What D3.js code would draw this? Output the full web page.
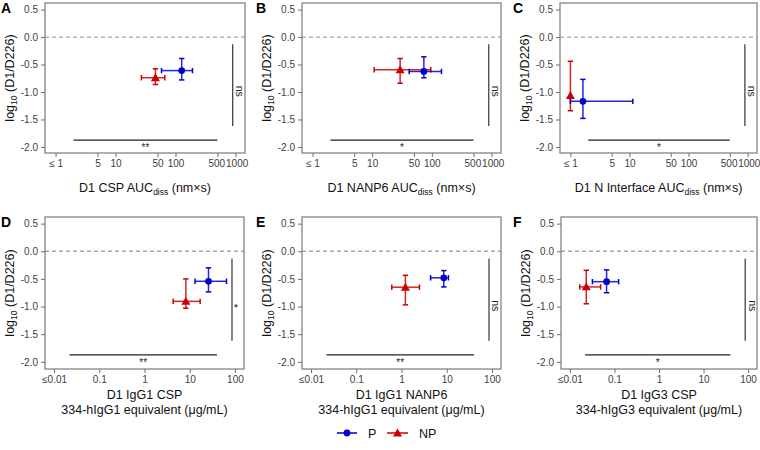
<!DOCTYPE html>
<html><head><meta charset="utf-8">
<script src="https://cdn.jsdelivr.net/npm/d3@7"></script>
<style>body{margin:0;background:#fff;} svg{display:block;font-family:"Liberation Sans",Arial,sans-serif;}</style>
</head><body><svg id="c" width="760" height="450"></svg>
<script>
// ---------- data ----------
const panelIds = ["A","B","C","D","E","F"];
const xTitleMain = ["D1 CSP AUC","D1 NANP6 AUC","D1 N Interface AUC","D1 IgG1 CSP","D1 IgG1 NANP6","D1 IgG3 CSP"];
const xTitleSecond = [null,null,null,"334-hIgG1 equivalent (μg/mL)","334-hIgG1 equivalent (μg/mL)","334-hIgG3 equivalent (μg/mL)"];
const yTickValues = [0.5,0,-0.5,-1,-1.5,-2];
const yTickLabels = ["0.5","0.0","-0.5","-1.0","-1.5","-2.0"];
const aucTickValues = [1,5,10,50,100,500,1000];
const aucTickLabels = ["≤ 1","5","10","50","100","500","1000"];
const igTickValues = [0.01,0.1,1,10,100];
const igTickLabels = ["≤0.01","0.1","1","10","100"];
const seriesNames = ["P","NP"];

// P (protected) means with error ranges, per panel A..F
const pX   = [127, 73.5, 1.63, 26, 8.6, 0.0666];
const pXlo = [58.5, 41.7, 1, 13.1, 4.4, 0.032];
const pXhi = [192, 145, 11.4, 65, 10.9, 0.124];
const pY   = [-0.61, -0.626, -1.17, -0.543, -0.48, -0.55];
const pYlo = [-0.78, -0.74, -1.48, -0.735, -0.645, -0.75];
const pYhi = [-0.39, -0.36, -0.77, -0.30, -0.35, -0.337];
// NP (not protected)
const npX   = [46.3, 29.4, 1, 8.2, 1.22, 0.0233];
const npXlo = [27, 10.8, 1, 4.3, 0.61, 0.0166];
const npXhi = [66.4, 96, 1, 17, 2.5, 0.049];
const npY   = [-0.74, -0.595, -1.064, -0.906, -0.65, -0.645];
const npYlo = [-0.863, -0.84, -1.34, -1.03, -0.97, -0.95];
const npYhi = [-0.577, -0.39, -0.44, -0.50, -0.435, -0.345];

// significance annotations
const hSigLabels = ["**","*","*","**","**","*"];
const vSigLabels = ["ns","ns","ns","*","ns","ns"];
const hSigFrom = [2, 2, 2, 0.022, 0.022, 0.022];
const hSigTo   = [500, 500, 500, 40, 40, 40];
const vSigAt   = [900, 900, 900, 86, 86, 86];

// ---------- layout ----------
const boxes = [
  {l:45, r:245, t:3, b:153}, {l:302, r:501, t:3, b:153}, {l:560, r:757, t:3, b:153},
  {l:45, r:244, t:217, b:369}, {l:302, r:501, t:217, b:369}, {l:561, r:757, t:217, b:369}
];
const letterX = [1, 256, 513, 1, 256, 513];
const blue = "#0000cd", red = "#cd0000";
const svg = d3.select("#c");

panelIds.forEach((id, i) => {
  const bx = boxes[i];
  const row1 = i < 3;
  const x = d3.scaleLog()
    .domain(row1 ? [Math.pow(10,-0.176), Math.pow(10,3.159)] : [Math.pow(10,-2.2), Math.pow(10,2.2)])
    .range([bx.l, bx.r]);
  const y = d3.scaleLinear().domain(row1 ? [-2.11, 0.62] : [-2.13, 0.62]).range([bx.b, bx.t]);
  const g = svg.append("g");

  // axes
  const tv = row1 ? aucTickValues : igTickValues;
  const tl = row1 ? aucTickLabels : igTickLabels;
  const xa = g.append("g").attr("transform", `translate(0,${bx.b})`)
    .call(d3.axisBottom(x).tickValues(tv).tickFormat((d,k) => tl[k]).tickSize(4).tickPadding(3).tickSizeOuter(0));
  const ya = g.append("g").attr("transform", `translate(${bx.l},0)`)
    .call(d3.axisLeft(y).tickValues(yTickValues).tickFormat((d,k) => yTickLabels[k]).tickSize(4).tickPadding(3).tickSizeOuter(0));
  [xa, ya].forEach(a => {
    a.select(".domain").remove();
    a.selectAll("line").attr("stroke", "#6e6e6e").attr("stroke-width", 1);
    a.selectAll("text").attr("fill", "#404040").attr("font-size", 10).attr("font-family", "Liberation Sans, Arial, sans-serif");
  });
  // the crowded 500 / 1000 labels sit edge to edge, as in the reference
  xa.selectAll(".tick text").attr("dx", d => d === 500 ? -1.2 : d === 1000 ? 1.2 : 0);

  // zero dashed line
  g.append("line").attr("x1", bx.l).attr("x2", bx.r).attr("y1", y(0)).attr("y2", y(0))
    .attr("stroke", "#a6a6a6").attr("stroke-width", 1.3).attr("stroke-dasharray", "4,3");

  // significance bars
  g.append("line").attr("x1", x(hSigFrom[i])).attr("x2", x(hSigTo[i]))
    .attr("y1", y(-1.875)).attr("y2", y(-1.875)).attr("stroke", "#222").attr("stroke-width", 1.1);
  g.append("text").attr("x", x(Math.sqrt(hSigFrom[i]*hSigTo[i]))).attr("y", y(-1.875) + 11)
    .attr("text-anchor", "middle").attr("font-size", 10).attr("fill", "#222").text(hSigLabels[i]);
  g.append("line").attr("x1", x(vSigAt[i])).attr("x2", x(vSigAt[i]))
    .attr("y1", y(-0.13)).attr("y2", y(-1.62)).attr("stroke", "#222").attr("stroke-width", 1.1);
  const vOff = vSigLabels[i] === "ns" ? 3.5 : -1.5;
  g.append("text").attr("transform", `translate(${x(vSigAt[i]) + vOff},${y(-0.985)}) rotate(90)`)
    .attr("text-anchor", "middle").attr("font-size", 10.5).attr("fill", "#222").text(vSigLabels[i]);

  // series
  const series = [
    {name: seriesNames[1], col: red, cx: npX[i], xl: npXlo[i], xh: npXhi[i], cy: npY[i], yl: npYlo[i], yh: npYhi[i], sym: d3.symbolTriangle, size: 36},
    {name: seriesNames[0], col: blue, cx: pX[i], xl: pXlo[i], xh: pXhi[i], cy: pY[i], yl: pYlo[i], yh: pYhi[i], sym: d3.symbolCircle, size: 36}
  ];
  series.forEach(s => {
    const sg = g.append("g").attr("stroke", s.col).attr("stroke-width", 1.5);
    const cap = 2.7;
    sg.append("line").attr("x1", x(s.xl)).attr("x2", x(s.xh)).attr("y1", y(s.cy)).attr("y2", y(s.cy)).attr("stroke-opacity", 0.85);
    [s.xl, s.xh].forEach(v => sg.append("line").attr("x1", x(v)).attr("x2", x(v)).attr("y1", y(s.cy)-cap).attr("y2", y(s.cy)+cap));
    sg.append("line").attr("x1", x(s.cx)).attr("x2", x(s.cx)).attr("y1", y(s.yl)).attr("y2", y(s.yh)).attr("stroke-opacity", 0.85);
    [s.yl, s.yh].forEach(v => sg.append("line").attr("x1", x(s.cx)-cap).attr("x2", x(s.cx)+cap).attr("y1", y(v)).attr("y2", y(v)));
    g.append("path").attr("d", d3.symbol().type(s.sym).size(s.size)())
      .attr("transform", `translate(${x(s.cx)},${y(s.cy) + (s.sym === d3.symbolTriangle ? 0.8 : 0)})`).attr("fill", s.col);
  });

  // box
  g.append("rect").attr("x", bx.l).attr("y", bx.t).attr("width", bx.r - bx.l).attr("height", bx.b - bx.t)
    .attr("fill", "none").attr("stroke", "#7a7a7a").attr("stroke-width", 1.2);

  // y title
  const yt = g.append("text").attr("transform", `translate(${bx.l - 31},${(bx.t + bx.b)/2}) rotate(-90)`)
    .attr("text-anchor", "middle").attr("font-size", 12.5).attr("fill", "#111");
  yt.append("tspan").text("log");
  yt.append("tspan").attr("font-size", 8.5).attr("dy", 3).text("10");
  yt.append("tspan").attr("dy", -3).text(" (D1/D226)");

  // x title
  const cx = (bx.l + bx.r) / 2;
  if (row1) {
    const xt = g.append("text").attr("x", cx).attr("y", bx.b + 39).attr("text-anchor", "middle")
      .attr("font-size", 12.5).attr("fill", "#111");
    xt.append("tspan").text(xTitleMain[i]);
    xt.append("tspan").attr("font-size", 8.5).attr("dy", 3).text("diss");
    xt.append("tspan").attr("dy", -3).text(" (nm×s)");
  } else {
    g.append("text").attr("x", cx).attr("y", bx.b + 29.5).attr("text-anchor", "middle")
      .attr("font-size", 12.5).attr("fill", "#111").text(xTitleMain[i]);
    g.append("text").attr("x", cx).attr("y", bx.b + 44.5).attr("text-anchor", "middle")
      .attr("font-size", 12.5).attr("fill", "#111").text(xTitleSecond[i]);
  }

  // panel letter
  g.append("text").attr("x", letterX[i]).attr("y", bx.t + 10).attr("font-size", 14).attr("font-weight", "bold")
    .attr("fill", "#000").text(id);
});

// legend
const ly = 433;
const leg = svg.append("g");
const legItems = [
  {name: seriesNames[0], col: blue, sym: d3.symbolCircle, size: 36, x0: 337, x1: 357, tx: 368},
  {name: seriesNames[1], col: red, sym: d3.symbolTriangle, size: 36, x0: 387, x1: 408, tx: 419}
];
legItems.forEach(it => {
  leg.append("line").attr("x1", it.x0).attr("x2", it.x1).attr("y1", ly).attr("y2", ly)
    .attr("stroke", it.col).attr("stroke-width", 1.5);
  leg.append("path").attr("d", d3.symbol().type(it.sym).size(it.size)())
    .attr("transform", `translate(${(it.x0 + it.x1)/2},${ly + (it.sym === d3.symbolTriangle ? 0.8 : 0)})`).attr("fill", it.col);
  leg.append("text").attr("x", it.tx).attr("y", ly + 4.5).attr("font-size", 12.5).attr("fill", "#111").text(it.name);
});
</script>
</body></html>
